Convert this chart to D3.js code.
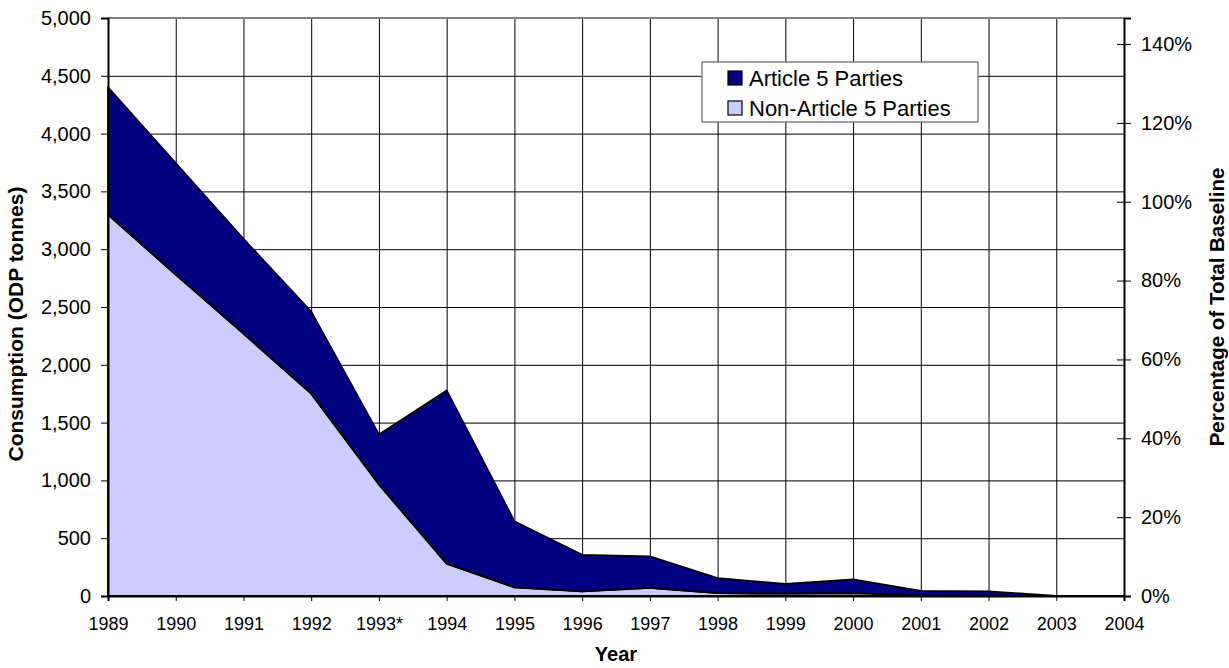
<!DOCTYPE html>
<html>
<head>
<meta charset="utf-8">
<script src="https://cdn.jsdelivr.net/npm/d3@7"></script>
<style>
  html, body { margin: 0; padding: 0; background: #ffffff; overflow: hidden; }
  #chart { width: 1229px; height: 668px; }
  #chart svg { display: block; }
</style>
</head>
<body>
<div id="chart"></div>
<script>
// values (ODP tonnes)
const years = ["1989", "1990", "1991", "1992", "1993*", "1994", "1995", "1996",
  "1997", "1998", "1999", "2000", "2001", "2002", "2003", "2004"];
const nonArticle5 = [3300, 2780, 2270, 1750, 965, 280, 75, 40, 70, 25, 20, 25, 5, 3, 0, 0];
const article5 = [1100, 965, 820, 710, 433, 1498, 572, 316, 272, 129, 84, 118, 40, 37, 0, 0];
const leftTicks = [0, 500, 1000, 1500, 2000, 2500, 3000, 3500, 4000, 4500, 5000];
const rightTicks = [0, 20, 40, 60, 80, 100, 120, 140];
const seriesNames = ["Article 5 Parties", "Non-Article 5 Parties"];

const fontFamily = "'Liberation Sans', Arial, sans-serif";
const width = 1229;
const height = 668;
const margin = { top: 18, right: 105, bottom: 72, left: 108 };
const innerWidth = width - margin.left - margin.right;
const innerHeight = height - margin.top - margin.bottom;

const svg = d3.select("#chart")
  .append("svg")
  .attr("width", width)
  .attr("height", height)
  .attr("font-family", fontFamily);

const chart = svg.append("g")
  .attr("transform", `translate(${margin.left},${margin.top})`);

const x = d3.scalePoint()
  .domain(years)
  .range([0, innerWidth]);

const y = d3.scaleLinear()
  .domain([0, 5000])
  .range([innerHeight, 0]);

// right axis: share of the total baseline
const yRight = d3.scaleLinear()
  .domain([0, 146.6])
  .range([innerHeight, 0]);

const table = years.map((year, i) => ({
  year,
  nonA5: nonArticle5[i],
  a5: article5[i]
}));

const stacked = d3.stack().keys(["nonA5", "a5"])(table);

// grid (no labels, the real axes carry them)
chart.append("g")
  .call(d3.axisLeft(y).tickValues(leftTicks).tickSize(-innerWidth).tickFormat(""))
  .call((g) => g.select(".domain").remove())
  .call((g) => g.selectAll("text").remove())
  .call((g) => g.selectAll("line").attr("stroke", "#000").attr("stroke-width", 1));

chart.append("g")
  .attr("transform", `translate(0,${innerHeight})`)
  .call(d3.axisBottom(x).tickSize(-innerHeight).tickFormat(""))
  .call((g) => g.select(".domain").remove())
  .call((g) => g.selectAll("text").remove())
  .call((g) => g.selectAll("line").attr("stroke", "#000").attr("stroke-width", 1));

chart.append("line")
  .attr("x1", 0).attr("x2", innerWidth)
  .attr("y1", 0).attr("y2", 0)
  .attr("stroke", "#808080")
  .attr("stroke-width", 2);

// stacked areas
const area = d3.area()
  .x((d) => x(d.data.year))
  .y0((d) => y(d[0]))
  .y1((d) => y(d[1]));

const fills = { nonA5: "#CCCCFF", a5: "#000080" };

chart.selectAll(".layer")
  .data(stacked)
  .enter()
  .append("path")
  .attr("class", "layer")
  .attr("d", area)
  .attr("fill", (d) => fills[d.key])
  .attr("stroke", "#000")
  .attr("stroke-width", 1.8)
  .attr("stroke-linejoin", "round");

// axes
chart.append("g")
  .call(d3.axisLeft(y).tickValues(leftTicks).tickSize(7).tickPadding(10).tickFormat(d3.format(",")))
  .attr("font-family", fontFamily)
  .attr("font-size", 20)
  .call((g) => g.select(".domain").attr("stroke-width", 2))
  .call((g) => g.selectAll("text").attr("fill", "#000"));

chart.append("g")
  .attr("transform", `translate(0,${innerHeight})`)
  .call(d3.axisBottom(x).tickSize(5).tickPadding(16))
  .attr("font-family", fontFamily)
  .attr("font-size", 18)
  .call((g) => g.select(".domain").attr("stroke-width", 2))
  .call((g) => g.selectAll("text").attr("fill", "#000"));

const rightAxis = chart.append("g")
  .attr("transform", `translate(${innerWidth},0)`)
  .call(d3.axisRight(yRight).tickValues(rightTicks).tickSize(7).tickPadding(10).tickFormat((v) => v + "%"))
  .attr("font-family", fontFamily)
  .attr("font-size", 20)
  .call((g) => g.select(".domain").attr("stroke-width", 2))
  .call((g) => g.selectAll("text").attr("fill", "#000"));

rightAxis.selectAll(".tick line").attr("x1", -7);

// axis titles
chart.append("text")
  .attr("x", innerWidth / 2)
  .attr("y", innerHeight + 65)
  .attr("text-anchor", "middle")
  .attr("font-size", 20)
  .attr("font-weight", 700)
  .text("Year");

chart.append("text")
  .attr("transform", "rotate(-90)")
  .attr("x", -306)
  .attr("y", -85)
  .attr("text-anchor", "middle")
  .attr("font-size", 21)
  .attr("font-weight", 700)
  .text("Consumption (ODP tonnes)");

chart.append("text")
  .attr("transform", "rotate(-90)")
  .attr("x", -289)
  .attr("y", innerWidth + 100)
  .attr("text-anchor", "middle")
  .attr("font-size", 20.5)
  .attr("font-weight", 700)
  .text("Percentage of Total Baseline");

// legend
const legend = svg.append("g")
  .attr("transform", "translate(702,62)");

legend.append("rect")
  .attr("width", 276)
  .attr("height", 60)
  .attr("fill", "#fff")
  .attr("stroke", "#808080")
  .attr("stroke-width", 1.5);

const legendFills = ["#000080", "#CCCCFF"];

seriesNames.forEach((name, i) => {
  const row = legend.append("g")
    .attr("transform", `translate(26,${9 + i * 30})`);

  row.append("rect")
    .attr("width", 14)
    .attr("height", 14)
    .attr("fill", legendFills[i])
    .attr("stroke", "#000")
    .attr("stroke-width", 1.2);

  row.append("text")
    .attr("x", 21)
    .attr("y", 7)
    .attr("dy", "0.35em")
    .attr("font-size", 22)
    .text(name);
});
</script>
</body>
</html>
